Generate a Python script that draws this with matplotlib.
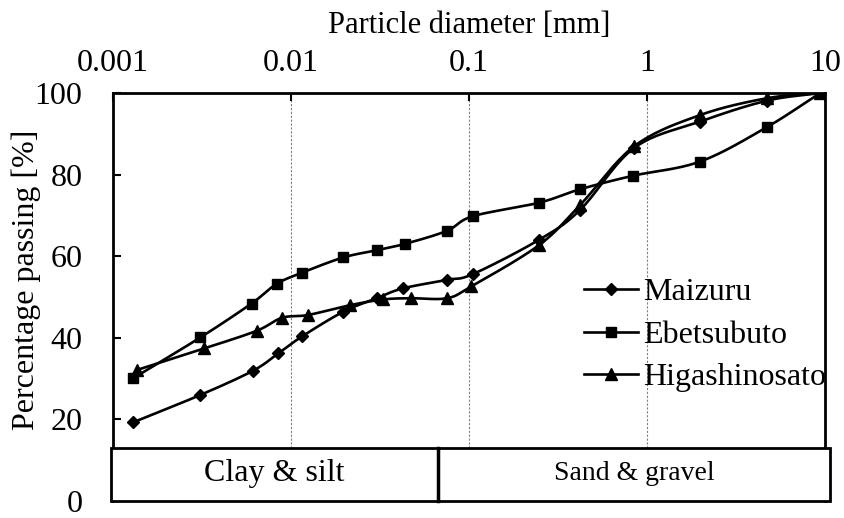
import numpy as np
import matplotlib
matplotlib.use('Agg')
import matplotlib.pyplot as plt
from matplotlib.patches import Rectangle

plt.rcParams['font.family'] = ['Liberation Serif', 'DejaVu Serif']

# grain size data
maizuru_d = [0.0013, 0.0031, 0.0061, 0.0085, 0.0116, 0.0197, 0.0303, 0.0424, 0.075, 0.105,
             0.247, 0.42, 0.845, 1.99, 4.7, 9.4]
maizuru_p = [19.3, 26.0, 31.9, 36.2, 40.4, 46.4, 49.7, 52.1, 54.2, 55.6,
             64.0, 71.3, 86.5, 93.0, 98.1, 100.0]

ebetsu_d = [0.0013, 0.0031, 0.0060, 0.0083, 0.0116, 0.0197, 0.0306, 0.0435, 0.075, 0.105,
            0.247, 0.42, 0.83, 1.99, 4.7, 9.4]
ebetsu_p = [30.1, 40.1, 48.4, 53.2, 56.0, 59.7, 61.5, 63.0, 66.2, 69.8,
            73.1, 76.4, 79.7, 83.2, 91.6, 100.0]

higashi_d = [0.00136, 0.00326, 0.0064, 0.0089, 0.0125, 0.0215, 0.033, 0.047, 0.075, 0.103,
             0.247, 0.42, 0.85, 1.99, 4.7, 9.4]
higashi_p = [32.1, 37.4, 41.7, 44.9, 45.6, 48.0, 49.4, 49.7, 49.7, 52.6,
             62.7, 72.5, 87.0, 94.6, 98.7, 100.0]

x_ticks = [0.001, 0.01, 0.1, 1, 10]
x_ticklabels = ['0.001', '0.01', '0.1', '1', '10']
y_ticks = [0, 20, 40, 60, 80, 100]
boundary = 0.067  # clay&silt / sand&gravel split
box_top = 13


def smooth(d, p, n=20):
    # catmull-rom through the points in (log d, p), like excel's smoothed line
    x = np.log10(d)
    y = np.array(p, dtype=float)
    px = np.concatenate([[2 * x[0] - x[1]], x, [2 * x[-1] - x[-2]]])
    py = np.concatenate([[2 * y[0] - y[1]], y, [2 * y[-1] - y[-2]]])
    xs, ys = [], []
    t = np.linspace(0, 1, n)
    for i in range(1, len(px) - 2):
        for arr, out in ((px, xs), (py, ys)):
            p0, p1, p2, p3 = arr[i - 1], arr[i], arr[i + 1], arr[i + 2]
            out.extend(0.5 * ((2 * p1) + (-p0 + p2) * t + (2 * p0 - 5 * p1 + 4 * p2 - p3) * t ** 2
                              + (-p0 + 3 * p1 - 3 * p2 + p3) * t ** 3))
    return 10 ** np.array(xs), np.array(ys)


fig = plt.figure(figsize=(8.44, 5.18), dpi=100)
ax = fig.add_axes([113 / 844, 1 - 501 / 518, 712 / 844, 408 / 518])

series = [(maizuru_d, maizuru_p, 'D', 6.5, 'Maizuru'),
          (ebetsu_d, ebetsu_p, 's', 6.5, 'Ebetsubuto'),
          (higashi_d, higashi_p, '^', 8.5, 'Higashinosato')]
for d, p, m, ms, name in series:
    sx, sy = smooth(d, p)
    ax.plot(sx, sy, color='black', lw=1.9, zorder=3)
    ax.plot(d, p, linestyle='none', marker=m, ms=ms, color='black', zorder=4)
    ax.plot([], [], color='black', lw=1.9, marker=m, ms=ms, label=name)

ax.set_xscale('log')
ax.set_xlim(0.001, 10)
ax.set_ylim(0, 100)

for g in [0.01, 0.1, 1]:
    ax.plot([g, g], [box_top, 100], color='gray', lw=0.8, linestyle=(0, (2, 1.5)), zorder=1)

ax.xaxis.tick_top()
ax.xaxis.set_label_position('top')
ax.set_xticks(x_ticks)
ax.set_xticklabels(x_ticklabels)
ax.minorticks_off()
ax.set_yticks(y_ticks)
ax.tick_params(direction='in', length=6, width=1.5, labelsize=23)
ax.tick_params(axis='x', pad=11)
ax.tick_params(axis='y', pad=22)
ax.set_xlabel('Particle diameter [mm]', fontsize=22)
ax.xaxis.set_label_coords(0.5, 1 + 60 / 408)
ax.xaxis.label.set_va('baseline')
ax.set_ylabel('Percentage passing [%]', fontsize=23)
ax.yaxis.set_label_coords(-87 / 712, (501 - 280) / 408)
ax.yaxis.label.set_va('center')

for side in ['top', 'left', 'right']:
    ax.spines[side].set_linewidth(2)
ax.spines['bottom'].set_visible(False)

# soil class box under the curves
tr = ax.get_yaxis_transform()
ax.add_patch(Rectangle((-0.003, 0), 1.01, box_top, transform=tr, facecolor='white',
                       edgecolor='black', lw=2, clip_on=False, zorder=5))
ax.plot([boundary, boundary], [0, box_top], color='black', lw=2.5, zorder=6, clip_on=False)
bfrac = (np.log10(boundary) + 3) / 4
ax.text((bfrac - 0.003) / 2, box_top / 2 + 0.3, 'Clay & silt', transform=tr, ha='center', va='center',
        fontsize=23, zorder=7)
ax.text((bfrac + 1.007) / 2, box_top / 2 + 0.3, 'Sand & gravel', transform=tr, ha='center', va='center',
        fontsize=20, zorder=7)

ax.legend(loc='center left', bbox_to_anchor=(584 / 844, 1 - 335 / 518), bbox_transform=fig.transFigure,
          frameon=False, fontsize=23, numpoints=1, handlelength=1.7, handletextpad=0.15,
          labelspacing=0.42, borderpad=0, borderaxespad=0)

fig.savefig('out.png', dpi=100)
